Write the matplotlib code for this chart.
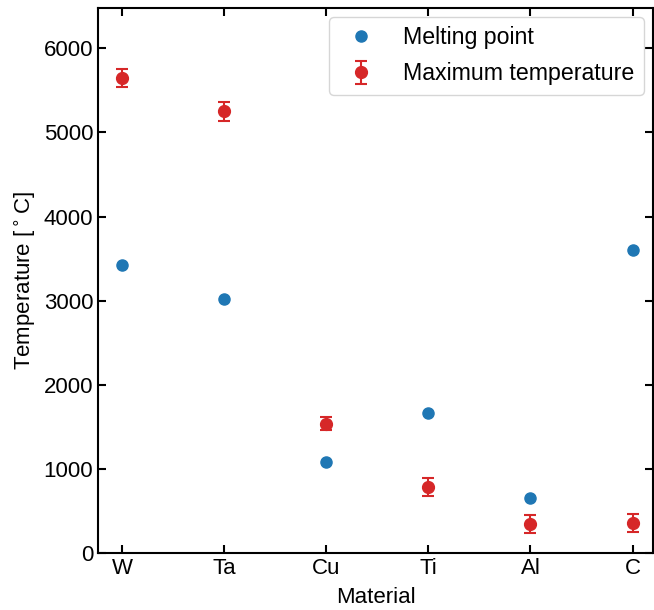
import matplotlib
matplotlib.use("Agg")
import matplotlib.pyplot as plt
import numpy as np

plt.rcParams['font.family'] = ['Liberation Sans', 'DejaVu Sans']
plt.rcParams['font.size'] = 16

materials = ['W', 'Ta', 'Cu', 'Ti', 'Al', 'C']
melting_point = [3422, 3017, 1085, 1668, 660, 3600]
max_temp = [5650, 5250, 1540, 790, 350, 360]
max_temp_err = [110, 110, 80, 105, 110, 110]

x = np.arange(len(materials))

fig, ax = plt.subplots(figsize=(6.54, 6.1), dpi=100)
fig.subplots_adjust(left=0.15, right=0.9985, top=0.987, bottom=0.093)

ax.plot(x, melting_point, 'o', color='tab:blue', markersize=8,
        label='Melting point')
ax.errorbar(x, max_temp, yerr=max_temp_err, fmt='o', color='tab:red',
            markersize=8.5, capsize=4, elinewidth=1.5, capthick=1.5,
            label='Maximum temperature')

ax.set_xticks(x)
ax.set_xticklabels(materials)
ax.set_xlim(-0.235, 5.2)
ax.set_ylim(0, 6480)
ax.set_yticks(range(0, 7000, 1000))
ax.set_xlabel('Material', labelpad=6)
ax.set_ylabel(r'Temperature [$^\circ$C]')

ax.tick_params(direction='in', top=True, right=True, length=6, width=1.5)
for s in ax.spines.values():
    s.set_linewidth(1.5)

ax.legend(loc='upper right', fontsize=16.7, labelspacing=0.55,
          borderaxespad=0.4)

fig.savefig('out.png', dpi=100)
